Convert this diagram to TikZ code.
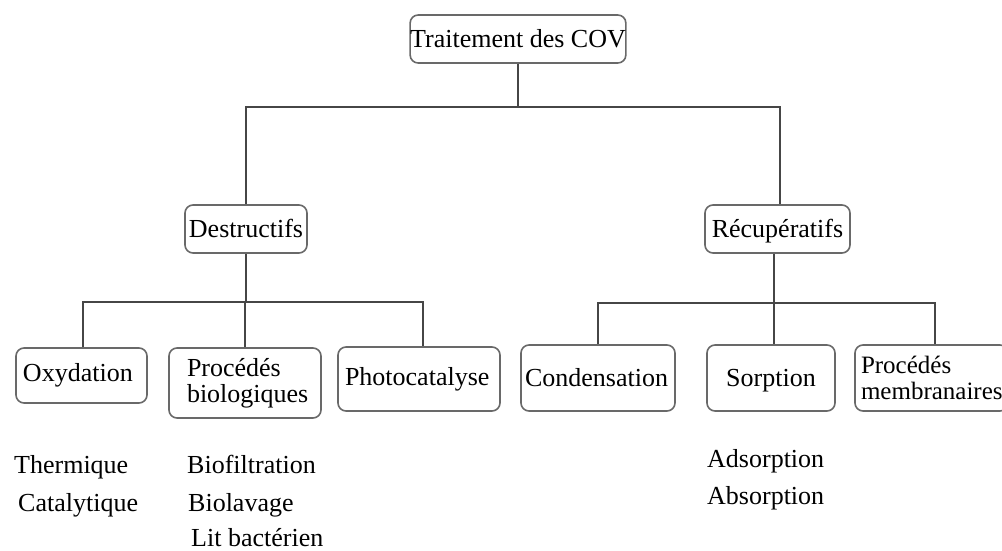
\documentclass[tikz,border=0pt]{standalone}
\usepackage{fontspec}
\setmainfont{Liberation Serif}
\definecolor{boxgray}{RGB}{105,105,105}
\definecolor{linegray}{RGB}{70,70,70}
\begin{document}
\begin{tikzpicture}[x=1pt,y=-1pt,
  every node/.style={font=\fontsize{26}{26}\selectfont, inner sep=0pt},
  box/.style={draw=boxgray, line width=1.6pt, rounded corners=8pt},
  one/.style={text height=20pt, text depth=4pt},
  lbl/.style={anchor=base west},
  conn/.style={draw=linegray, line width=1.6pt}]
\useasboundingbox (0,0) rectangle (1002,550);
% boxes
\node[box, one, minimum width=212pt, minimum height=48pt] (root) at (518,39) {Traitement des COV};
\node[box, one, minimum width=122pt, minimum height=48pt] (dest) at (246,229) {Destructifs};
\node[box, one, minimum width=145pt, minimum height=48pt] (recup) at (777.5,229) {Récupératifs};
\node[box, minimum height=55pt, text width=117pt, inner xsep=7pt, align=left] (ox) at (81.5,375.5) {Oxydation};
\node[box, minimum height=70pt, text width=116pt, inner xsep=18pt, align=left] (bio) at (245,383) {Procédés\\biologiques};
\node[box, minimum height=64pt, text width=148pt, inner xsep=7pt, align=left] (photo) at (419,379) {Photocatalyse};
\node[box, minimum height=66pt, text width=146pt, inner xsep=4pt, align=left] (cond) at (598,378) {Condensation};
\node[box, one, minimum width=128pt, minimum height=66pt] (sorp) at (771,378) {Sorption};
\node[box, minimum height=66pt, text width=141pt, inner xsep=6pt, align=left, font=\fontsize{25}{26}\selectfont] (memb) at (931.5,378) {Procédés\\membranaires};
% connectors
\coordinate (h1) at (0,107);
\coordinate (h2) at (0,302);
\coordinate (h3) at (0,303);
\draw[conn] (root.south) -- (root.south |- h1);
\draw[conn] (dest.north) -- (dest.north |- h1) -- ([xshift=2.5pt]recup.north |- h1) -- ([xshift=2.5pt]recup.north);
\draw[conn] (dest.south) -- (dest.south |- h2);
\draw[conn] ([xshift=1.5pt]ox.north) -- ([xshift=1.5pt]ox.north |- h2) -- ([xshift=4pt]photo.north |- h2) -- ([xshift=4pt]photo.north);
\draw[conn] (bio.north) -- (bio.north |- h2);
\draw[conn] ([xshift=-3.5pt]recup.south) -- ([xshift=-3.5pt]recup.south |- h3);
\draw[conn] (cond.north) -- (cond.north |- h3) -- ([xshift=3.5pt]memb.north |- h3) -- ([xshift=3.5pt]memb.north);
\draw[conn] ([xshift=3pt]sorp.north) -- ([xshift=3pt]sorp.north |- h3);
% sub-labels
\node[lbl] (therm) at (14,473) {Thermique};
\node[lbl] (catal) at (18,511) {Catalytique};
\node[lbl] (biofil) at (187,473) {Biofiltration};
\node[lbl] (biolav) at (188,511) {Biolavage};
\node[lbl] (lit) at (191,546) {Lit bactérien};
\node[lbl] (adsor) at (707,467) {Adsorption};
\node[lbl] (absor) at (707,504) {Absorption};
\end{tikzpicture}
\end{document}
